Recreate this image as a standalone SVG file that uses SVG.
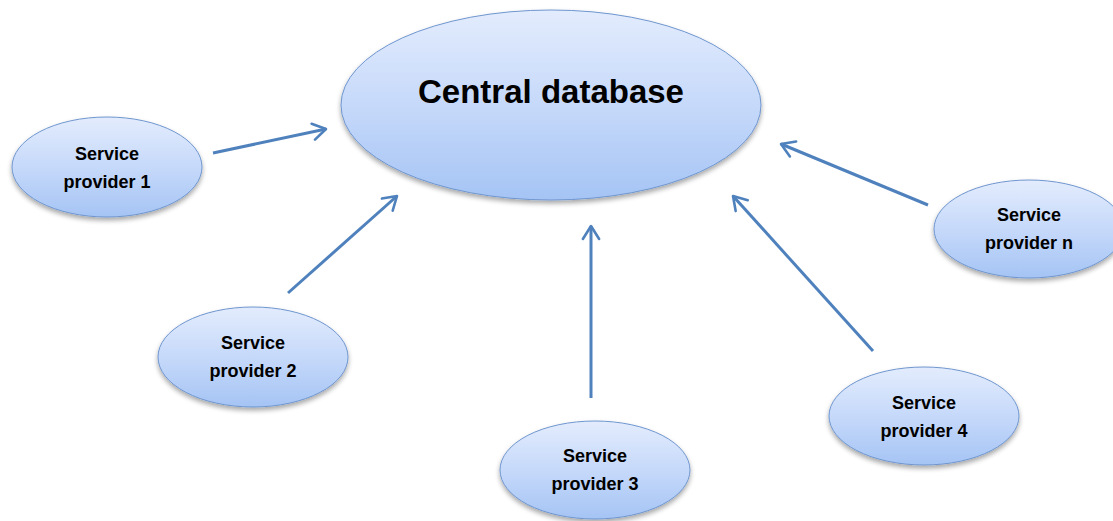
<svg xmlns="http://www.w3.org/2000/svg" width="1113" height="521" viewBox="0 0 1113 521">
  <defs>
    <linearGradient id="blueFill" x1="0" y1="0" x2="0" y2="1">
      <stop offset="0" stop-color="#e3ecfd"/>
      <stop offset="0.5" stop-color="#c6d9fa"/>
      <stop offset="1" stop-color="#a5c4f4"/>
    </linearGradient>
    <filter id="shadow" x="-20%" y="-20%" width="140%" height="150%">
      <feGaussianBlur in="SourceAlpha" stdDeviation="2.5"/>
      <feOffset dy="3" result="b"/>
      <feComponentTransfer><feFuncA type="linear" slope="0.35"/></feComponentTransfer>
      <feMerge><feMergeNode/><feMergeNode in="SourceGraphic"/></feMerge>
    </filter>
    <marker id="chevron" viewBox="0 0 12 12" refX="10" refY="6" markerWidth="6.5" markerHeight="6.5" orient="auto" markerUnits="strokeWidth">
      <path d="M2,1 L10,6 L2,11" fill="none" stroke="#4f81bd" stroke-width="1.6" stroke-linecap="round" stroke-linejoin="round"/>
    </marker>
  </defs>
  <style>
    .node ellipse { fill: url(#blueFill); stroke: #6f96cf; stroke-width: 1; filter: url(#shadow); }
    .label { font-family: "Liberation Sans", Arial, sans-serif; font-weight: bold; fill: #000; text-anchor: middle; }
    .small { font-size: 18px; }
    .big { font-size: 33px; }
    .conn line { stroke: #4f81bd; stroke-width: 3; marker-end: url(#chevron); }
  </style>
  <rect width="1113" height="521" fill="#ffffff"/>

  <g id="connectors" class="conn">
    <line x1="213" y1="153" x2="326" y2="129"/>
    <line x1="288" y1="293" x2="397" y2="196"/>
    <line x1="591" y1="398" x2="591" y2="226"/>
    <line x1="873" y1="351" x2="733" y2="196"/>
    <line x1="928" y1="205" x2="781" y2="144"/>
  </g>

  <g id="central-database" class="node">
    <ellipse cx="551" cy="105" rx="210" ry="95"/>
    <text class="label big" x="551" y="103">Central database</text>
  </g>

  <g id="service-provider-1" class="node">
    <ellipse cx="107" cy="167" rx="95" ry="50"/>
    <text class="label small" x="107" y="160">Service</text>
    <text class="label small" x="107" y="188">provider 1</text>
  </g>

  <g id="service-provider-2" class="node">
    <ellipse cx="253" cy="357" rx="95" ry="50"/>
    <text class="label small" x="253" y="349">Service</text>
    <text class="label small" x="253" y="377">provider 2</text>
  </g>

  <g id="service-provider-3" class="node">
    <ellipse cx="595" cy="470" rx="95" ry="49"/>
    <text class="label small" x="595" y="462">Service</text>
    <text class="label small" x="595" y="490">provider 3</text>
  </g>

  <g id="service-provider-4" class="node">
    <ellipse cx="924" cy="416" rx="95" ry="49"/>
    <text class="label small" x="924" y="409">Service</text>
    <text class="label small" x="924" y="437">provider 4</text>
  </g>

  <g id="service-provider-n" class="node">
    <ellipse cx="1029" cy="229" rx="95" ry="49"/>
    <text class="label small" x="1029" y="221">Service</text>
    <text class="label small" x="1029" y="249">provider n</text>
  </g>
</svg>
